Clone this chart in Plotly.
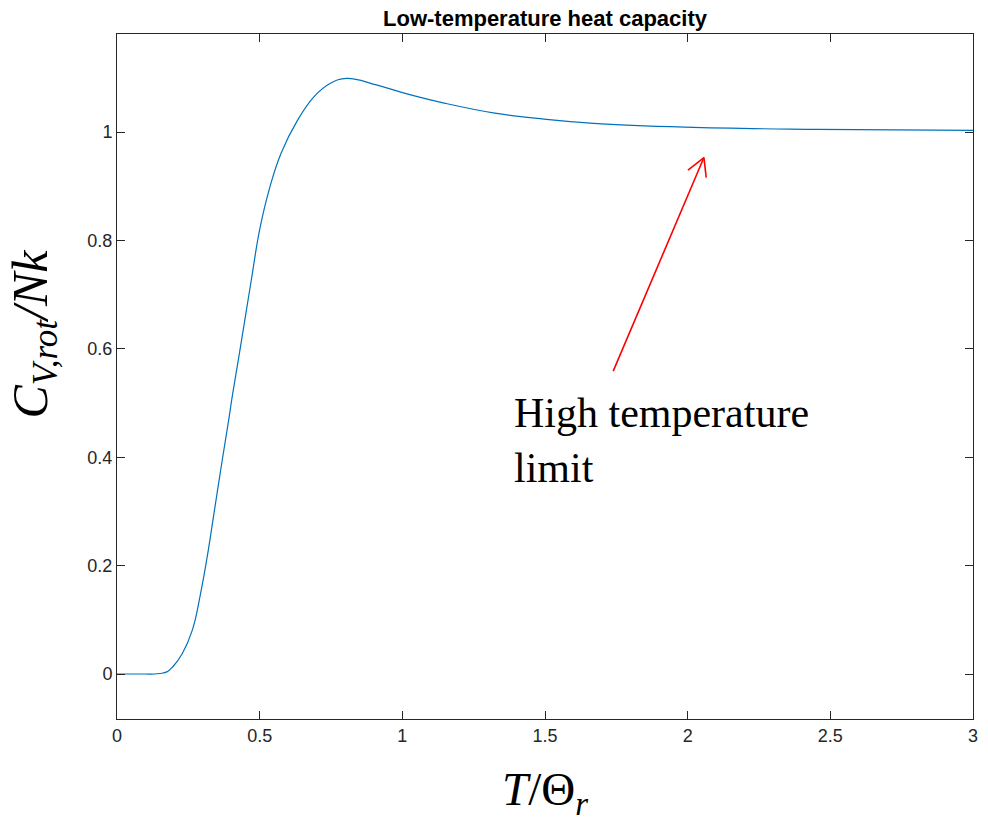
import plotly.graph_objects as go

# Data
t_ratio = [0.0, 0.05, 0.10, 0.13, 0.15, 0.175, 0.195, 0.229, 0.264, 0.293, 0.316,
           0.338, 0.365, 0.393, 0.402, 0.431, 0.471, 0.500, 0.535, 0.575, 0.633, 0.690,
           0.748, 0.805, 0.909, 1.013, 1.151, 1.324, 1.497, 1.670, 1.991, 2.453, 3.0]
c_rot = [0.0, 0.0, 0.0, 0.0, 0.001, 0.004, 0.013, 0.038, 0.081, 0.149, 0.216,
         0.290, 0.382, 0.474, 0.506, 0.598, 0.728, 0.820, 0.897, 0.961, 1.022, 1.065,
         1.090, 1.099, 1.087, 1.071, 1.053, 1.035, 1.024, 1.016, 1.009, 1.005, 1.003]

x_ticks = [0, 0.5, 1, 1.5, 2, 2.5, 3]
x_tick_labels = ["0", "0.5", "1", "1.5", "2", "2.5", "3"]
y_ticks = [0, 0.2, 0.4, 0.6, 0.8, 1]
y_tick_labels = ["0", "0.2", "0.4", "0.6", "0.8", "1"]

title_text = "Low-temperature heat capacity"
note_text = "High temperature<br>limit"
arrow_tail = (1.739, 0.559)
arrow_tip = (2.057, 0.953)
barb_left = (2.001, 0.930)
barb_right = (2.065, 0.916)

fig = go.Figure()
fig.add_trace(go.Scatter(x=t_ratio, y=c_rot, mode="lines",
                         line=dict(color="#0072BD", width=1.2, shape="spline", smoothing=1.2),
                         hoverinfo="skip", showlegend=False))

axis_common = dict(showline=True, mirror="ticks", ticks="inside", ticklen=8,
                   linecolor="#262626", linewidth=1, tickcolor="#262626",
                   showgrid=False, zeroline=False,
                   tickfont=dict(family="Liberation Sans, Arial, sans-serif", size=18, color="#262626"))

fig.update_xaxes(range=[0, 3], tickvals=x_ticks, ticktext=x_tick_labels, **axis_common)
fig.update_yaxes(range=[-0.083, 1.181], tickvals=y_ticks, ticktext=y_tick_labels, **axis_common)

for (x0, y0), (x1, y1) in [(arrow_tail, arrow_tip), (barb_left, arrow_tip), (barb_right, arrow_tip)]:
    fig.add_shape(type="line", xref="x", yref="y", x0=x0, y0=y0, x1=x1, y1=y1,
                  line=dict(color="#FF0000", width=1.6))

fig.add_annotation(x=1.385, y=0.528, xref="x", yref="y", text=note_text, showarrow=False,
                   xanchor="left", yanchor="top", align="left",
                   font=dict(family="Liberation Serif, Times New Roman, serif", size=42, color="black"))

fig.add_annotation(x=0.5, y=1, xref="paper", yref="paper", text="<b>" + title_text + "</b>",
                   showarrow=False, xanchor="center", yanchor="bottom", yshift=1,
                   font=dict(family="Liberation Sans, Arial, sans-serif", size=22, color="black"))

fig.add_annotation(x=0.5, y=0, xref="paper", yref="paper",
                   text="<i>T</i>/Θ<sub><i>r</i></sub>", showarrow=False,
                   xanchor="center", yanchor="top", yshift=-42,
                   font=dict(family="Liberation Serif, Times New Roman, serif", size=47, color="black"))

fig.add_annotation(x=0, y=0.5, xref="paper", yref="paper",
                   text="<i>C<sub>V,rot</sub>/Nk</i>", showarrow=False, textangle=-90,
                   xanchor="right", yanchor="middle", xshift=-50, yshift=42,
                   font=dict(family="Liberation Serif, Times New Roman, serif", size=50, color="black"))

fig.update_layout(width=988, height=818, margin=dict(l=117, r=10, t=34, b=99),
                  plot_bgcolor="white", paper_bgcolor="white", showlegend=False)

# remove the default page margin and scrollbars so the figure fills the window exactly
page_fix = ("document.body.style.margin='0';"
            "document.body.style.overflow='hidden';"
            "document.documentElement.style.overflow='hidden';")

fig.write_html("out.html", post_script=page_fix, config={"displayModeBar": False})
